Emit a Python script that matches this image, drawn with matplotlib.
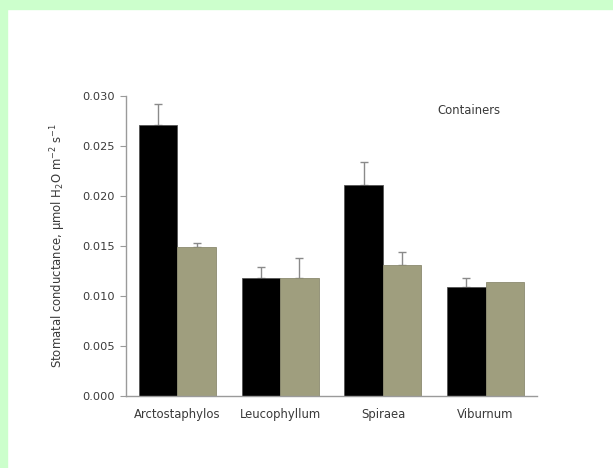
import matplotlib
matplotlib.use("Agg")
import matplotlib.pyplot as plt
from matplotlib.patches import Rectangle
import numpy as np

categories = ["Arctostaphylos", "Leucophyllum", "Spiraea", "Viburnum"]
series_a = [0.0271, 0.01175, 0.0211, 0.0109]
series_a_err = [0.0021, 0.00115, 0.00232, 0.0009]
series_b = [0.01486, 0.0118, 0.01308, 0.01135]
series_b_err = [0.0004, 0.00195, 0.00127, 0.0]
yticks = [0.000, 0.005, 0.010, 0.015, 0.020, 0.025, 0.030]

plt.rcParams['font.family'] = ['DejaVu Sans']
plt.rcParams['mathtext.default'] = 'regular'

fig = plt.figure(figsize=(6.13, 4.68), dpi=100)
fig.patch.set_facecolor('white')
W, H = 613, 468
green = '#ccffcc'
fig.patches.append(Rectangle((0, 0), 7 / W, 1, transform=fig.transFigure, color=green, zorder=0))
fig.patches.append(Rectangle((0, 1 - 9 / H), 1, 9 / H, transform=fig.transFigure, color=green, zorder=0))

ax = fig.add_axes([126 / W, 1 - 395.7 / H, (537 - 126) / W, (395.7 - 96) / H])
x = np.arange(len(categories))
w = 0.375
ekw = dict(ecolor='#8a8a8a', elinewidth=1.0, capsize=3, capthick=1.0, fmt='none', zorder=1)
ax.bar(x - w / 2, series_a, w, color='black', edgecolor='#555555', linewidth=0.6, zorder=2)
ax.bar(x + w / 2, series_b, w, color='#9f9e7e', edgecolor='#8c8b70', linewidth=0.6, zorder=2)

ea = np.array(series_a_err)
eb = np.array(series_b_err)
ma = ea > 0
mb = eb > 0
ax.errorbar((x - w / 2)[ma], np.array(series_a)[ma], yerr=[np.zeros(ma.sum()), ea[ma]], **ekw)
ax.errorbar((x + w / 2)[mb], np.array(series_b)[mb], yerr=[np.zeros(mb.sum()), eb[mb]], **ekw)

ax.set_xlim(-0.5, 3.5)
ax.set_ylim(0, 0.030)
ax.set_yticks(yticks)
ax.set_yticklabels([f"{v:.3f}" for v in yticks])
ax.set_xticks(x)
ax.set_xticklabels(categories)
for s in ['top', 'right']:
    ax.spines[s].set_visible(False)
for s in ['left', 'bottom']:
    ax.spines[s].set_color('#9a9a9a')
    ax.spines[s].set_linewidth(1.0)
tc = '#3a3a3a'
ax.tick_params(axis='y', direction='out', length=4, color='#9a9a9a', labelsize=8.2, pad=4, labelcolor=tc)
ax.tick_params(axis='x', length=0, labelsize=8.4, pad=9, labelcolor=tc)
ax.set_ylabel(r"Stomatal conductance, $\mu$mol H$_2$O m$^{-2}$ s$^{-1}$", fontsize=8.4, color=tc, labelpad=10)
ax.text(0.835, 0.95, "Containers", transform=ax.transAxes, ha='center', va='center', fontsize=8.4, color=tc)

fig.savefig("out.png", dpi=100)
